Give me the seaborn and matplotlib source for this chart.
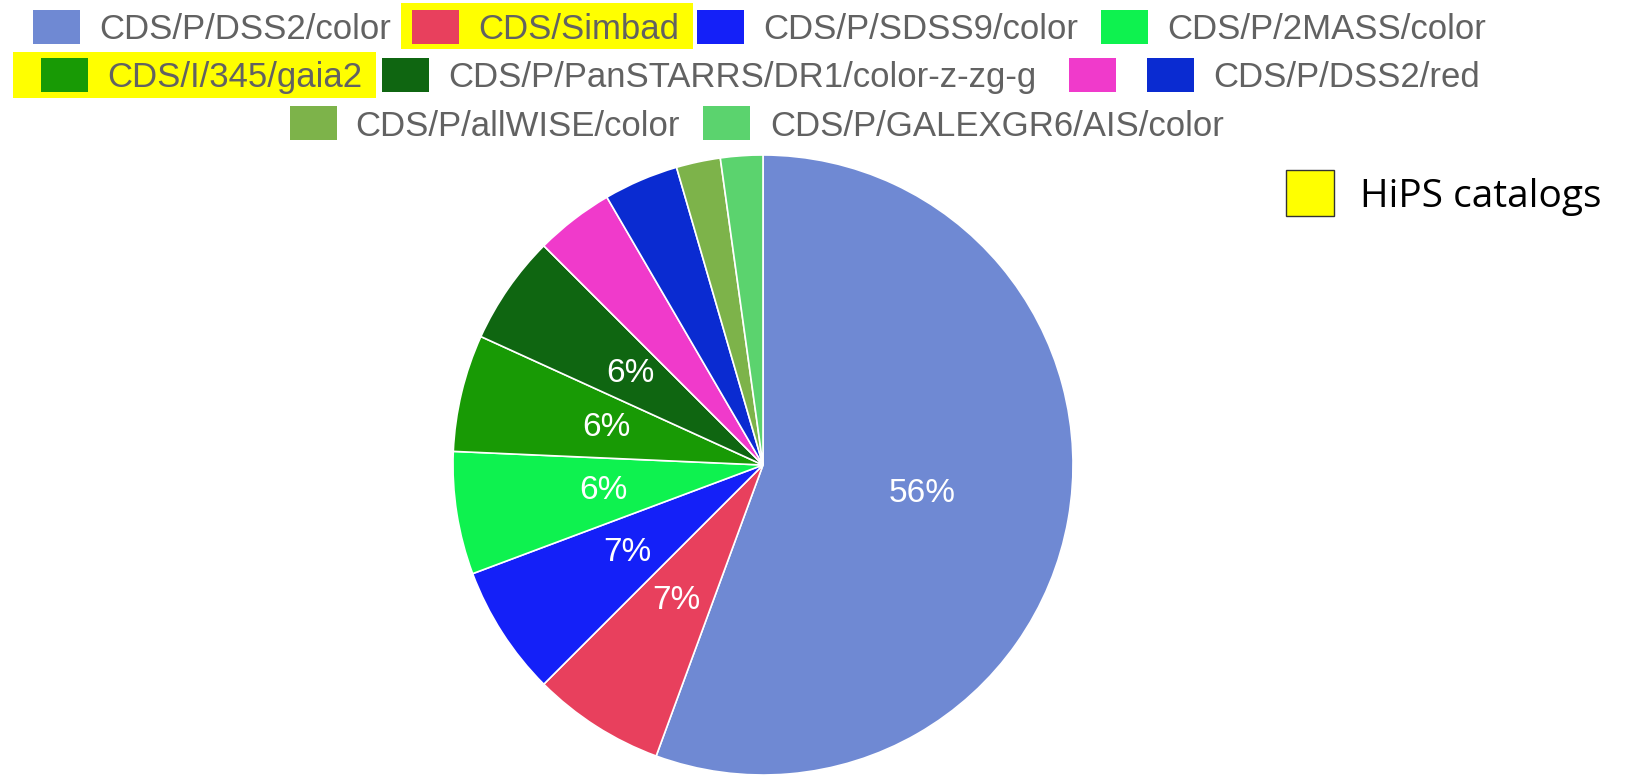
import matplotlib
matplotlib.use("Agg")
import matplotlib.pyplot as plt
from matplotlib.patches import Rectangle
import seaborn as sns

# データ: HiPS の利用割合 (%)
names = ["CDS/P/DSS2/color", "CDS/Simbad", "CDS/P/SDSS9/color", "CDS/P/2MASS/color",
         "CDS/I/345/gaia2", "CDS/P/PanSTARRS/DR1/color-z-zg-g", "",
         "CDS/P/DSS2/red", "CDS/P/allWISE/color", "CDS/P/GALEXGR6/AIS/color"]
shares = [55.6, 6.9, 6.8, 6.4, 6.1, 5.7, 4.1, 3.9, 2.3, 2.2]
colors = ["#6f89d3", "#e8405d", "#1420f8", "#0ef24f", "#189a05",
          "#0f6611", "#f03acb", "#0a2bd1", "#7db34a", "#5bd36e"]
catalogs = ["CDS/Simbad", "CDS/I/345/gaia2"]  # 黄色でハイライト

sns.set_theme(style="white")
plt.rcParams["font.family"] = ["Liberation Sans", "DejaVu Sans"]

W, H = 1634, 778
fig = plt.figure(figsize=(W / 100, H / 100), dpi=100)

# 円グラフ
ax = fig.add_axes([453 / W, 3 / H, 620 / W, 620 / H])
pal = sns.color_palette(colors)
ax.pie(shares, colors=pal, startangle=90, counterclock=False,
       wedgeprops=dict(edgecolor="white", linewidth=1.2),
       autopct=lambda p: f"{p:.0f}%" if p >= 5 else "", pctdistance=0.52,
       textprops=dict(color="white", fontsize=24))
ax.set_xlim(-1, 1)
ax.set_ylim(-1, 1)
ax.set_aspect("equal")


def box(x0, y0, w, h, **kw):
    fig.add_artist(Rectangle((x0 / W, 1 - (y0 + h) / H), w / W, h / H,
                             transform=fig.transFigure, **kw))


# 凡例 (手動配置)
# (square x, square top, text x, baseline)
legend_pos = [(33, 10, 99, 39), (412, 10, 478, 39), (697, 10, 763, 39), (1101, 10, 1167, 39),
              (41, 58, 107, 87), (382, 58, 448, 87), (1069, 58, 1135, 87), (1147, 58, 1213, 87),
              (290, 106, 355, 136), (703, 106, 770, 136)]
highlight = {"CDS/Simbad": (401, 3, 292, 46), "CDS/I/345/gaia2": (13, 52, 363, 46)}

for name, c, (sx, sy, tx, ty) in zip(names, colors, legend_pos):
    if name in catalogs:
        hx, hy, hw, hh = highlight[name]
        box(hx, hy, hw, hh, facecolor="#ffff00", edgecolor="none")
    box(sx, sy, 47, 34, facecolor=c, edgecolor="none")
    if name:
        fig.text(tx / W, 1 - ty / H, name, fontsize=25, color="#626262", va="baseline")

# HiPS catalogs の注記
box(1286, 170, 48, 46, facecolor="#ffff00", edgecolor="#333333", linewidth=1)
fig.text(1360 / W, 1 - 207 / H, "HiPS catalogs", fontsize=28, color="black",
         va="baseline", family=["Open Sans", "DejaVu Sans"])

fig.savefig("out.png", dpi=100, facecolor="white")
